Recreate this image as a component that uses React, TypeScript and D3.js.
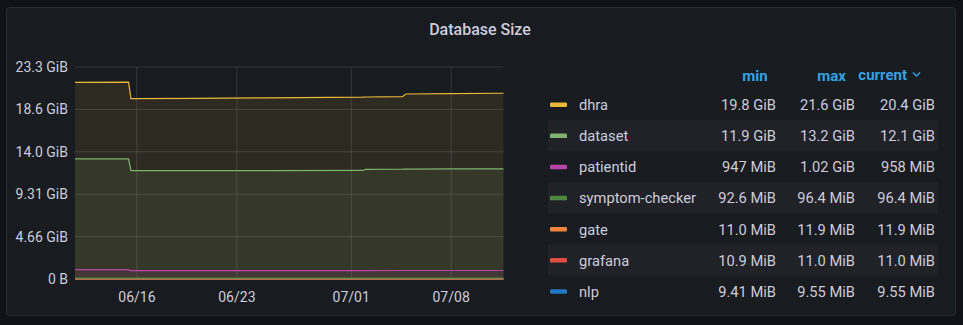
import React from "react";
import * as d3 from "d3";

const GIB = 1024 * 1024 * 1024;
const MIB = 1024 * 1024;

const seriesNames = ["dhra", "dataset", "patientid", "symptom-checker", "gate", "grafana", "nlp"];
const seriesColors = ["#EAB839", "#7EB26D", "#BA43A9", "#508642", "#EF843C", "#E24D42", "#1F78C1"];

const times = [
  "2021-06-11T16:00", "2021-06-15T10:00", "2021-06-15T14:00", "2021-06-20T00:00",
  "2021-06-25T00:00", "2021-07-01T20:00", "2021-07-02T00:00", "2021-07-04T14:00",
  "2021-07-04T20:00", "2021-07-08T00:00", "2021-07-11T16:00",
];

// values per series (dhra/dataset in GiB, the rest in MiB)
const dhraGiB = [21.6, 21.62, 19.8, 19.84, 19.9, 19.98, 19.99, 20.02, 20.32, 20.36, 20.4];
const datasetGiB = [13.2, 13.2, 11.9, 11.9, 11.91, 11.92, 12.05, 12.06, 12.07, 12.09, 12.1];
const patientidMiB = [1045, 1044, 947, 948, 950, 952, 953, 955, 956, 957, 958];
const symptomMiB = [92.6, 92.8, 93, 93.5, 94, 94.8, 95, 95.6, 95.9, 96.2, 96.4];
const gateMiB = [11.0, 11.0, 11.1, 11.2, 11.3, 11.5, 11.5, 11.7, 11.7, 11.8, 11.9];
const grafanaMiB = [10.9, 10.9, 10.9, 10.92, 10.94, 10.96, 10.96, 10.98, 10.98, 11.0, 11.0];
const nlpMiB = [9.41, 9.42, 9.42, 9.44, 9.46, 9.49, 9.49, 9.52, 9.52, 9.54, 9.55];

const legendMin = ["19.8 GiB", "11.9 GiB", "947 MiB", "92.6 MiB", "11.0 MiB", "10.9 MiB", "9.41 MiB"];
const legendMax = ["21.6 GiB", "13.2 GiB", "1.02 GiB", "96.4 MiB", "11.9 MiB", "11.0 MiB", "9.55 MiB"];
const legendCurrent = ["20.4 GiB", "12.1 GiB", "958 MiB", "96.4 MiB", "11.9 MiB", "11.0 MiB", "9.55 MiB"];

const yTicks = [0, 5e9, 10e9, 15e9, 20e9, 25e9];
const yTickLabels = ["0 B", "4.66 GiB", "9.31 GiB", "14.0 GiB", "18.6 GiB", "23.3 GiB"];
const xTicks = ["2021-06-16T00:00", "2021-06-23T00:00", "2021-07-01T00:00", "2021-07-08T00:00"];
const xTickLabels = ["06/16", "06/23", "07/01", "07/08"];

const W = 963, H = 325;
const plot = { left: 75, right: 503.5, top: 67, bottom: 279 };
const FONT = "Roboto, 'Noto Sans', sans-serif";
const TEXT = "#ccccdc";
const BLUE = "#33a2e5";

export default function App() {
  const parse = d3.timeParse("%Y-%m-%dT%H:%M");
  const dates = times.map((t) => parse(t) as Date);
  const x = d3.scaleTime()
    .domain([parse("2021-06-11T16:00") as Date, parse("2021-07-11T16:00") as Date])
    .range([plot.left, plot.right]);
  const y = d3.scaleLinear().domain([0, 25e9]).range([plot.bottom, plot.top]);

  const series = [
    dhraGiB.map((v) => v * GIB),
    datasetGiB.map((v) => v * GIB),
    patientidMiB.map((v) => v * MIB),
    symptomMiB.map((v) => v * MIB),
    gateMiB.map((v) => v * MIB),
    grafanaMiB.map((v) => v * MIB),
    nlpMiB.map((v) => v * MIB),
  ];

  const line = d3.line<[Date, number]>().x((d) => x(d[0])).y((d) => y(d[1]));
  const area = d3.area<[Date, number]>().x((d) => x(d[0])).y0(y(0)).y1((d) => y(d[1]));

  const rowY0 = 104.8;
  const rowStep = 31.12;
  const colMinR = 776, colMaxR = 855, colCurR = 935;
  const LFS = 14.7;

  return (
    <div style={{ position: "fixed", left: 0, top: 0, width: W, height: H, background: "#111217" }}>
      <svg width={W} height={H} style={{ display: "block", fontFamily: FONT }}>
        <rect x={0} y={0} width={W} height={H} fill="#111217" />
        <rect x={6.5} y={7.5} width={949} height={308} rx={3} fill="#181b1f" stroke="#2a2d33" />
        <text x={480} y={34.5} textAnchor="middle" fill={TEXT} fontSize={16} fontWeight={500}>
          Database Size
        </text>

        {/* grid */}
        {yTicks.map((t, i) => (
          <g key={"y" + i}>
            <line x1={plot.left} x2={plot.right} y1={y(t)} y2={y(t)} stroke="rgba(204,204,220,0.16)" />
            <text x={68} y={y(t) + 5} textAnchor="end" fill={TEXT} fontSize={14}>
              {yTickLabels[i]}
            </text>
          </g>
        ))}
        {xTicks.map((t, i) => {
          const xv = x(parse(t) as Date);
          return (
            <g key={"x" + i}>
              <line x1={xv} x2={xv} y1={plot.top} y2={plot.bottom} stroke="rgba(204,204,220,0.16)" />
              <text x={xv} y={302} textAnchor="middle" fill={TEXT} fontSize={14}>
                {xTickLabels[i]}
              </text>
            </g>
          );
        })}

        {/* areas */}
        {series.map((vals, si) => {
          const pts = vals.map((v, i) => [dates[i], v] as [Date, number]);
          return <path key={"a" + si} d={area(pts) || ""} fill={seriesColors[si]} fillOpacity={0.1} />;
        })}
        {series.slice().reverse().map((vals, ri) => {
          const si = series.length - 1 - ri;
          const pts = vals.map((v, i) => [dates[i], v] as [Date, number]);
          return <path key={"l" + si} d={line(pts) || ""} fill="none" stroke={seriesColors[si]} strokeWidth={1.2} />;
        })}

        {/* legend header */}
        <text x={755} y={80.5} textAnchor="middle" fill={BLUE} fontSize={15} fontWeight={700}>min</text>
        <text x={831.5} y={80.5} textAnchor="middle" fill={BLUE} fontSize={15} fontWeight={700}>max</text>
        <text x={907} y={80} textAnchor="end" fill={BLUE} fontSize={15} fontWeight={700}>current</text>
        <path d="M913,72.5 L916.5,76 L920,72.5" fill="none" stroke={BLUE} strokeWidth={1.5} />

        {seriesNames.map((name, i) => {
          const cy = rowY0 + i * rowStep;
          const by = cy + 5.3;
          return (
            <g key={"lg" + i}>
              {i % 2 === 1 && (
                <rect x={548} y={cy - 16} width={390} height={31} fill="#202228" />
              )}
              <rect x={550} y={cy - 2.3} width={17} height={4.5} rx={1.2} fill={seriesColors[i]} />
              <text x={579} y={by} fill={TEXT} fontSize={LFS}>{name}</text>
              <text x={colMinR} y={by} textAnchor="end" fill={TEXT} fontSize={LFS}>{legendMin[i]}</text>
              <text x={colMaxR} y={by} textAnchor="end" fill={TEXT} fontSize={LFS}>{legendMax[i]}</text>
              <text x={colCurR} y={by} textAnchor="end" fill={TEXT} fontSize={LFS}>{legendCurrent[i]}</text>
            </g>
          );
        })}
      </svg>
    </div>
  );
}
